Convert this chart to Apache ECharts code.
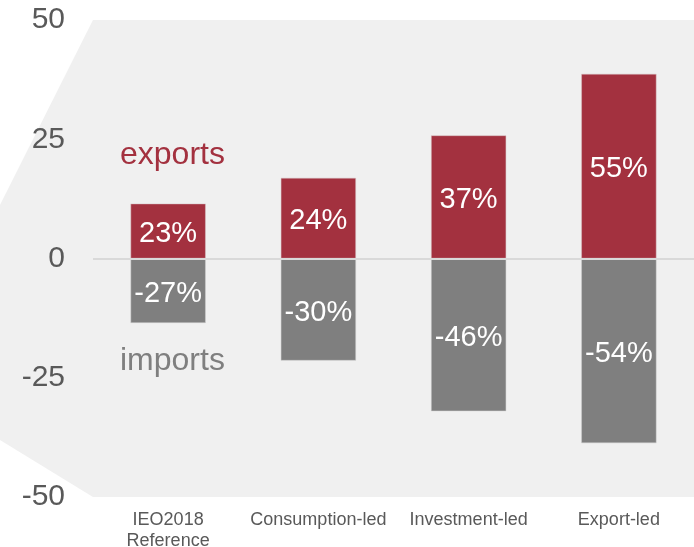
<!DOCTYPE html>
<html>
<head>
<meta charset="utf-8">
<script src="https://cdn.jsdelivr.net/npm/echarts@6/dist/echarts.min.js"></script>
<style>
  html, body { margin: 0; padding: 0; background: #ffffff; }
  #chart { width: 694px; height: 547px; }
</style>
</head>
<body>
<div id="chart"></div>
<script>
// Scenario categories
const categories = ['IEO2018\nReference', 'Consumption-led', 'Investment-led', 'Export-led'];
// Bar heights on the value axis
const exportsValues = [11.5, 16.9, 25.8, 38.7];
const importsValues = [-13.5, -21.4, -32.0, -38.7];
// Percent changes printed inside the bars
const exportsPct = ['23%', '24%', '37%', '55%'];
const importsPct = ['-27%', '-30%', '-46%', '-54%'];
// Value axis ticks
const yTicks = [-50, -25, 0, 25, 50];

const FONT = '"Liberation Sans", Arial, sans-serif';
const RED = '#a3313f';
const GREY = '#7f7f7f';
const PANEL = '#f0f0f0';

const GRID = { left: 93, right: 0, top: 20, bottom: 50 };
const H = 547;

const chart = echarts.init(document.getElementById('chart'), null, { renderer: 'canvas' });

chart.setOption({
  animation: false,
  backgroundColor: '#ffffff',
  textStyle: { fontFamily: FONT },
  grid: {
    left: GRID.left, right: GRID.right, top: GRID.top, bottom: GRID.bottom,
    containLabel: false,
    outerBoundsMode: 'none',
    show: true, backgroundColor: PANEL, borderWidth: 0
  },
  graphic: [
    {
      // angled panel extension on the left side
      type: 'polygon',
      z: -1,
      silent: true,
      shape: {
        points: [
          [GRID.left, GRID.top],
          [0, 205],
          [0, 440],
          [GRID.left, H - GRID.bottom]
        ]
      },
      style: { fill: PANEL }
    },
    {
      type: 'text',
      left: 120, top: 139,
      style: { text: 'exports', fill: RED, font: '32px ' + FONT }
    },
    {
      type: 'text',
      left: 120, top: 345,
      style: { text: 'imports', fill: GREY, font: '32px ' + FONT }
    }
  ],
  xAxis: {
    type: 'category',
    data: categories,
    position: 'bottom',
    axisLine: { show: false },
    axisTick: { show: false },
    axisLabel: {
      interval: 0,
      color: '#595959',
      fontSize: 18,
      fontFamily: FONT,
      margin: 13,
      lineHeight: 21
    }
  },
  yAxis: {
    type: 'value',
    min: -50, max: 50, interval: 25,
    axisLine: { show: false },
    axisTick: { show: false },
    splitLine: { show: false },
    axisLabel: {
      color: '#595959',
      fontSize: 30,
      fontFamily: FONT,
      margin: 28,
      padding: [6, 0, 0, 0],
      customValues: yTicks
    }
  },
  series: [
    {
      name: 'exports',
      type: 'bar',
      data: exportsValues,
      barWidth: '50%',
      barGap: '-100%',
      itemStyle: { color: RED, borderColor: '#d8c4c6', borderWidth: 0.5 },
      label: {
        show: true,
        position: 'inside',
        offset: [0, 3],
        color: '#ffffff',
        fontSize: 29,
        fontFamily: FONT,
        formatter: p => exportsPct[p.dataIndex]
      },
      markLine: {
        silent: true,
        symbol: 'none',
        label: { show: false },
        lineStyle: { color: '#d9d9d9', width: 2, type: 'solid' },
        data: [{ yAxis: 0 }]
      }
    },
    {
      name: 'imports',
      type: 'bar',
      data: importsValues,
      barWidth: '50%',
      itemStyle: { color: GREY, borderColor: '#cccccc', borderWidth: 0.5 },
      label: {
        show: true,
        position: 'inside',
        offset: [0, 3],
        color: '#ffffff',
        fontSize: 29,
        fontFamily: FONT,
        formatter: p => importsPct[p.dataIndex]
      }
    }
  ]
});
</script>
</body>
</html>
